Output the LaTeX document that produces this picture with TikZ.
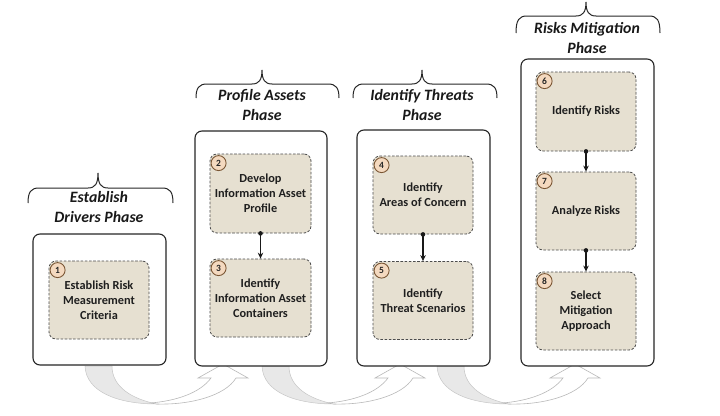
\documentclass[tikz,border=0pt]{standalone}
\usepackage{fontspec}
\setmainfont{Carlito}
\usetikzlibrary{arrows.meta,calc}
\definecolor{beige}{HTML}{E6E0D1}
\definecolor{badgefill}{HTML}{F4D9BF}
\definecolor{badgeline}{HTML}{7A5634}
\begin{document}
\begin{tikzpicture}[x=1pt,y=-1pt,
  outerbox/.style={draw=black!85, line width=1.1pt, rounded corners=7pt, fill=white, inner sep=0pt},
  innerbox/.style={draw=black!70, dash pattern=on 2.6pt off 1.6pt, line width=0.8pt, rounded corners=7pt, fill=beige, minimum width=100pt, minimum height=78pt, align=center, font=\fontsize{12.3}{15}\selectfont\bfseries, text=black!88, inner sep=2pt},
  badge/.style={circle, draw=badgeline, fill=badgefill, line width=0.9pt, minimum size=15pt, inner sep=0pt, font=\fontsize{9.5}{9.5}\selectfont\bfseries, text=black!85},
  phase/.style={align=center, font=\fontsize{15.8}{20}\selectfont\bfseries\itshape, text=black!90},
  bracepath/.style={draw=black!85, line width=1pt},
  flow/.style={line width=1.1pt, draw=black!90, -{Stealth[length=6pt,width=5.5pt]}},
  flowdot/.style={fill=black!90},
  backband/.style={fill=gray!18, draw=gray!45, line width=0.5pt},
  frontarrow/.style={fill=white, draw=gray!55, line width=0.6pt},
]
\useasboundingbox (0,0) rectangle (720,415);

% curved transition arrows
\foreach \L in {85,262,437}{
  \begin{scope}[xshift={(\L-85)*1pt}]
    \path[backband] (85,366) .. controls (86,392) and (118,404) .. (157,404)
       .. controls (132,399) and (112,387) .. (112,366) -- cycle;
    \path[frontarrow] (150,403) .. controls (176,401) and (200,393) .. (211,378)
       -- (198,378) -- (223,364) -- (248,378) -- (236,378)
       .. controls (225,396) and (190,405) .. (157,404) -- cycle;
  \end{scope}
}

% outer phase boxes
\node[outerbox, minimum width=133pt, minimum height=131pt] (b1) at (99.5,299.5) {};
\node[outerbox, minimum width=132pt, minimum height=235pt] (b2) at (261,248.5) {};
\node[outerbox, minimum width=133pt, minimum height=236pt] (b3) at (423.5,248) {};
\node[outerbox, minimum width=133pt, minimum height=307pt] (b4) at (587.5,212.5) {};

% inner steps
\node[innerbox] (s1) at (99,300) {Establish Risk\\Measurement\\Criteria};
\node[innerbox, minimum width=101pt, minimum height=79pt] (s2) at (260.5,193.5) {Develop\\Information Asset\\Profile};
\node[innerbox, minimum width=101pt] (s3) at (260.5,298) {Identify\\Information Asset\\Containers};
\node[innerbox] (s4) at (423,195) {Identify\\Areas of Concern};
\node[innerbox] (s5) at (423,300.5) {Identify\\Threat Scenarios};
\node[innerbox, minimum height=79pt] (s6) at (586,111.5) {Identify Risks};
\node[innerbox] (s7) at (586,211) {Analyze Risks};
\node[innerbox] (s8) at (586,311) {Select\\Mitigation\\Approach};

% badges
\foreach \s/\n in {s1/1,s2/2,s3/3,s4/4,s5/5,s6/6,s7/7,s8/8}{
  \node[badge] (bd\n) at ($(\s.north west)+(9,9.5)$) {\n};
}

% flow arrows
\foreach \a/\b in {s2/s3,s4/s5,s6/s7,s7/s8}{
  \draw[flow] (\a.south) -- (\b.north);
  \fill[flowdot] (\a.south) circle (2.3pt);
}

% braces
\foreach \xa/\m/\xb/\t/\b/\e in {28/98/173/173/188/203, 196/262/339/70/84/98, 353/422/497/70/84/98, 516/586/660/2/16/33}{
  \draw[bracepath] (\xa,\e) .. controls (\xa,{\b+4}) and ({\xa+3},\b) .. ({\xa+11},\b)
    -- ({\m-10},\b) .. controls ({\m-3},\b) and (\m,{\b-4}) .. (\m,\t)
    .. controls (\m,{\b-4}) and ({\m+3},\b) .. ({\m+10},\b)
    -- ({\xb-11},\b) .. controls ({\xb-3},\b) and (\xb,{\b+4}) .. (\xb,\e);
}

% phase labels
\node[phase] (p1) at (99,207.5) {Establish\\Drivers Phase};
\node[phase] (p2) at (262,105) {Profile Assets\\Phase};
\node[phase] (p3) at (422,105) {Identify Threats\\Phase};
\node[phase] (p4) at (587,38) {Risks Mitigation\\Phase};
\end{tikzpicture}
\end{document}
